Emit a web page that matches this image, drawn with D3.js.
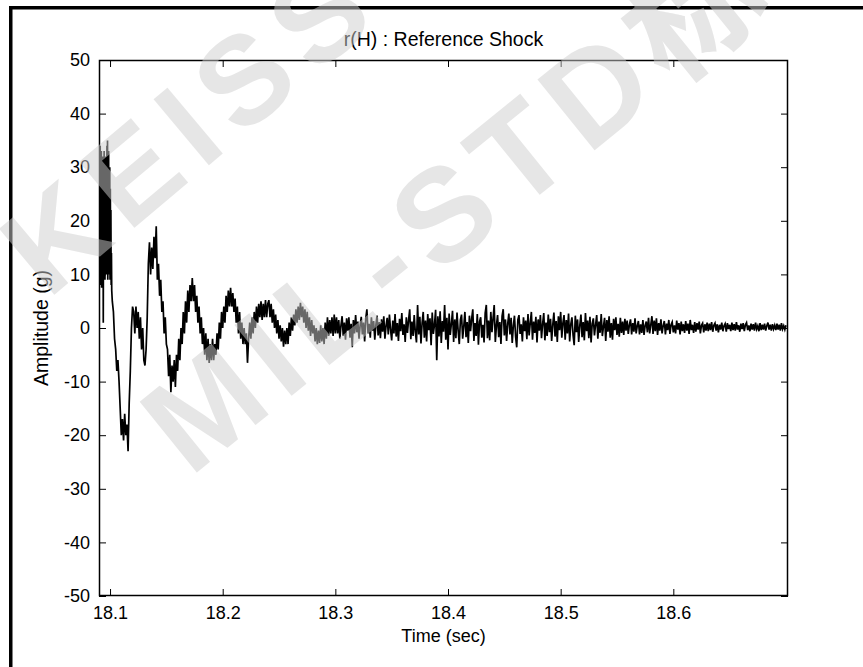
<!DOCTYPE html>
<html>
<head>
<meta charset="utf-8">
<script src="https://d3js.org/d3.v7.min.js"></script>
<style>
  body { margin: 0; background: #fff; }
  svg { display: block; }
</style>
</head>
<body>
<svg></svg>
<script>
const BURST_T0 = 18.0905;
const BURST_DT = 0.00025;
const burst = [
  20, 33, 12, 34, 8, 30, 14, 33, 7.5, 28,
  11, 32, 13, 26, 1, 29, 10, 33, 12, 31,
  9, 27, 14, 32, 10, 30, 12, 34, 11, 35,
  9, 29, 13, 33, 10, 28, 12, 30, 9, 26,
  11, 22, 8, 14, 7
];

// rest of the trace, one value every DT seconds starting at T0
const T0 = 18.102;
const DT = 0.001;
const amplitude = [
  5, 3, -2, -4, -8, -6, -10, -15, -20,
  -17, -21, -16, -20, -18, -23, -14, -8, 0, 4,
  3, -1, 4, 0, 3, -2, 2, -4, 0, -6,
  -7, -4, 2, 12, 16, 10, 15, 11, 17, 13,
  19, 9, 12, 6, 9, 3, 5, -1, 2, -3,
  -4, -9, -5, -12, -7, -10, -6, -11, -5, -8,
  -2, -6, 0, -3, 3, -1, 5, 1, 7, 3,
  8, 5, 9.3, 5, 8, 3, 6, 1, 4, -1,
  2, -3, 0, -5, -1, -6, -2, -6.5, -3, -6,
  -2, -6, -3, -5, -1, -4, 1, -2, 3, 0,
  4, 1, 6, 3, 7, 4, 7.5, 4, 6.5, 3,
  5.5, 1, 4, -1, 3, -2, 1, -3, 0, -3,
  -1, -6.5, -2, 1, -2, 2, -1, 3, 0, 4,
  1, 4.5, 2, 5, 1.5, 4.5, 2, 5.2, 2, 4.5,
  5.2, 2, 4.5, 1, 3.5, 0, 2.5, -1, 1.5, -2,
  0.5, -2.5, 0, -3.5, -0.5, -3, 0, -3, 1, -1.5,
  2, -0.5, 2.5, 0.5, 3.5, 1, 4, 1.5, 4.7, 2,
  4, 1, 3.5, 0, 3, -0.5, 2, -1.5, 1.5, -1,
  0.5, -2.5, 0, -3, -0.5, -2.8, 0.5, -2.5, 0, -3,
  1, -2, 2, -1.5, 1.5, -1, 2, -1.5, 2.5, -1,
  2, -1, 1.5, -2, 0.5, 2.2, -1.5, 1, -2.2, 1.8,
  -0.5, 2, -1.8, 0.8, -3.6, 1.5, -1, 2.4, -0.8, 1.2,
  -2, 0.5, 2.1, -1.2, 1, -2.5, 1.8, 3.5, -1, 0.8,
  -1.8, 2, -0.5, 1.3, -2.2, 0.6, 2.3, -1.4, 1.1, -1.9,
  1.6, -0.7, 2.2, -2, 0.4, 1.9, -1.2, 2.5, -0.3, -2.3,
  1.4, -1, 2.6, -1.6, 0.9, -2.4, 1.7, -0.6, 2.8, -1.3,
  0.7, -2.6, 2, -0.9, 1.5, 3.5, -2.1, 1.2, -1.5, 2.4,
  -0.8, -2.7, 4.3, -1.2, 2.1, -2.9, 0.9, 3, -1.8, 1.4,
  -2.5, 2.6, -0.4, 1.8, -3.2, 2.9, -1.1, 0.6, 3.4, -6,
  2.2, -1.6, 3.1, -2.8, 1.3, -0.7, 4.3, -2.2, 1.9, -4,
  2.7, -1.3, 0.8, 3.2, -2.6, 1.6, -1.9, 2.9, -0.5, -3,
  1.5, 2.5, -2, 0.3, 3, -1.7, 1.1, -2.8, 2.3, -0.6,
  1.7, 3.5, -2.4, 0.9, -1.5, 2.6, -3.1, 1.2, 2, -1.8,
  0.6, -2.7, 2.8, 4.3, -1.9, 1.4, -2.3, 3, -0.8, 1.8,
  4.3, -2.6, 0.5, 2.4, -1.7, 1.1, -3, 2.2, 3.5, -1.4,
  1.6, -2.4, 0.8, 2.7, -1.2, 1.9, -2.8, 0.4, 2.3, -1.6,
  -3.6, 1.5, 2.4, -1.1, 0.7, -2.5, 2, -0.6, 1.4, -2.1,
  2.6, -1.4, 0.9, 3, -2.2, 1.2, -0.9, 2.1, -2.7, 1.6,
  -0.5, 2.4, -1.9, 0.8, 2.8, -2.3, 1, -1.5, 2.5, -0.8,
  1.7, -2.4, 0.6, 2.9, -1.6, 1.3, -2.6, 2.2, -0.4, 3,
  -1.8, 0.9, 2.4, -2.2, 1.5, -1, 2.7, -2.5, 0.7, 2,
  -1.3, -3.2, 2.3, -0.8, 1.6, -2.6, 0.5, 2.5, -1.7, 1.1,
  -2.3, 2.8, -0.6, 1.4, -1.9, 2.1, -2.7, 0.8, 1.8, -1.4,
  0.6, 2.4, -2, 1.2, -0.9, 2.6, -1.5, 0.3, 1.9, -2.4,
  1.5, -0.7, 2.2, -1.8, 0.9, -2.2, 1.7, -0.4, 2, -1.3,
  0.8, -1.6, 1.9, -0.9, 1.2, -1.3, 1.7, -0.5, 1.4, -1.1,
  0.6, 1.6, -1.2, 0.9, -0.7, 1.8, -1, 0.4, 1.3, -1.2,
  0.7, -0.9, 1.5, -1.3, 0.5, 1.2, -0.8, 1.9, -1, 0.6,
  2.2, -1.1, 1.4, -0.6, 1.8, -1.3, 0.9, -0.5, 1.6, -1,
  0.4, 1.3, -1.2, 0.8, -0.4, 1.5, -1.1, 0.6, 1.1, -0.8,
  0.5, -1, 1.4, -0.3, 0.9, -1.2, 1.2, -0.6, 0.7, -0.9,
  1.3, -0.5, 0.8, -1.1, 1.5, -0.4, 0.6, -0.9, 1.1, -0.7,
  0.9, -0.3, 1.2, -1, 0.5, 0.9, -0.8, 0.7, -0.5, 1,
  -0.6, 0.8, -0.4, 1.1, -0.7, 0.5, 0.9, -0.5, 0.7, -0.8,
  0.6, -0.3, 1, -0.6, 0.4, 0.8, -0.7, 0.9, -0.2, 0.6,
  -0.6, 1, -0.4, 0.7, -0.5, 1.1, -0.3, 0.5, -0.7, 0.8,
  -0.2, 0.9, -0.6, 0.6, 1, -0.4, 0.5, -0.6, 0.8, -0.3,
  0.7, -0.5, 1, -0.2, 0.4, -0.6, 0.9, -0.4, 0.6, -0.3,
  0.8, -0.5, 0.4, 1, -0.3, 0.6, -0.5, 0.7, -0.2, 0.5,
  -0.4, 0.8, -0.3, 0.6, -0.5, 0.9, -0.2, 0.4, -0.3, 0.5
];

const xTicks = [18.1, 18.2, 18.3, 18.4, 18.5, 18.6];
const yTicks = [-50, -40, -30, -20, -10, 0, 10, 20, 30, 40, 50];
const xDomain = [18.0902, 18.7018];
const yDomain = [-50, 50];

const WIDTH = 863;
const HEIGHT = 667;
const LEFT = 99;
const RIGHT = 788;
const TOP = 60;
const BOTTOM = 596;
const TICK = 7;
const FONT = '"Liberation Sans", Arial, sans-serif';
const FONT_SIZE = 18;

const svg = d3.select('svg')
  .attr('width', WIDTH)
  .attr('height', HEIGHT)
  .attr('font-family', FONT);

svg.append('rect')
  .attr('width', WIDTH)
  .attr('height', HEIGHT)
  .attr('fill', '#fff');

// figure frame (only the left and top edges are in view)
svg.append('rect').attr('x', 9).attr('y', 6).attr('width', 3.5).attr('height', HEIGHT - 6).attr('fill', '#000');
svg.append('rect').attr('x', 9).attr('y', 6).attr('width', WIDTH - 9).attr('height', 3.5).attr('fill', '#000');

const xScale = d3.scaleLinear().domain(xDomain).range([LEFT, RIGHT]);
const yScale = d3.scaleLinear().domain(yDomain).range([BOTTOM, TOP]);

svg.append('clipPath')
  .attr('id', 'plot-clip')
  .append('rect')
  .attr('x', LEFT)
  .attr('y', TOP)
  .attr('width', RIGHT - LEFT)
  .attr('height', BOTTOM - TOP);

const trace = burst.map((v, i) => [BURST_T0 + i * BURST_DT, v])
  .concat(amplitude.map((v, i) => [T0 + i * DT, v]));

const line = d3.line()
  .x(d => xScale(d[0]))
  .y(d => yScale(d[1]));

svg.append('path')
  .datum(trace)
  .attr('clip-path', 'url(#plot-clip)')
  .attr('d', line)
  .attr('fill', 'none')
  .attr('stroke', '#000')
  .attr('stroke-width', 1.7);

// axes, ticks pointing inward on all four sides
const styleAxis = g => {
  g.select('.domain').remove();
  g.selectAll('.tick line').attr('stroke', '#000').attr('stroke-width', 1);
  g.selectAll('.tick text').attr('fill', '#000').attr('font-size', FONT_SIZE).attr('font-family', FONT);
};

svg.append('g')
  .attr('transform', `translate(0,${BOTTOM})`)
  .call(d3.axisBottom(xScale).tickValues(xTicks).tickSizeInner(-TICK).tickSizeOuter(0).tickPadding(10).tickFormat(d3.format('.1f')))
  .call(styleAxis);

svg.append('g')
  .attr('transform', `translate(0,${TOP})`)
  .call(d3.axisTop(xScale).tickValues(xTicks).tickSizeInner(-TICK).tickSizeOuter(0).tickFormat(''))
  .call(styleAxis);

svg.append('g')
  .attr('transform', `translate(${LEFT},0)`)
  .call(d3.axisLeft(yScale).tickValues(yTicks).tickSizeInner(-TICK).tickSizeOuter(0).tickPadding(9).tickFormat(d => String(d)))
  .call(styleAxis);

svg.append('g')
  .attr('transform', `translate(${RIGHT},0)`)
  .call(d3.axisRight(yScale).tickValues(yTicks).tickSizeInner(-TICK).tickSizeOuter(0).tickFormat(''))
  .call(styleAxis);

svg.append('rect')
  .attr('x', LEFT + 0.5)
  .attr('y', TOP + 0.5)
  .attr('width', RIGHT - LEFT - 1)
  .attr('height', BOTTOM - TOP - 1)
  .attr('fill', 'none')
  .attr('stroke', '#000')
  .attr('stroke-width', 1.5);

svg.append('text')
  .text('r(H) : Reference Shock')
  .attr('x', (LEFT + RIGHT) / 2)
  .attr('y', 46)
  .attr('text-anchor', 'middle')
  .attr('font-size', 19.5);

svg.append('text')
  .text('Time (sec)')
  .attr('x', (LEFT + RIGHT) / 2)
  .attr('y', 642)
  .attr('text-anchor', 'middle')
  .attr('font-size', FONT_SIZE);

svg.append('text')
  .text('Amplitude (g)')
  .attr('transform', `translate(48,${(TOP + BOTTOM) / 2}) rotate(-90)`)
  .attr('text-anchor', 'middle')
  .attr('font-size', 19.5);

// translucent watermark laid over everything
const mark = svg.append('g')
  .attr('fill', 'rgb(206,206,206)')
  .attr('opacity', 0.5)
  .attr('font-weight', 'bold')
  .attr('font-family', '"Liberation Sans", "Noto Sans CJK SC", sans-serif');

mark.append('text')
  .text('KEISS')
  .attr('transform', 'translate(48,300) rotate(-40)')
  .attr('font-size', 125)
  .attr('letter-spacing', 14);

mark.append('text')
  .text('MIL-STD标准')
  .attr('transform', 'translate(190,478) rotate(-39)')
  .attr('font-size', 132)
  .attr('letter-spacing', 12);
</script>
</body>
</html>
